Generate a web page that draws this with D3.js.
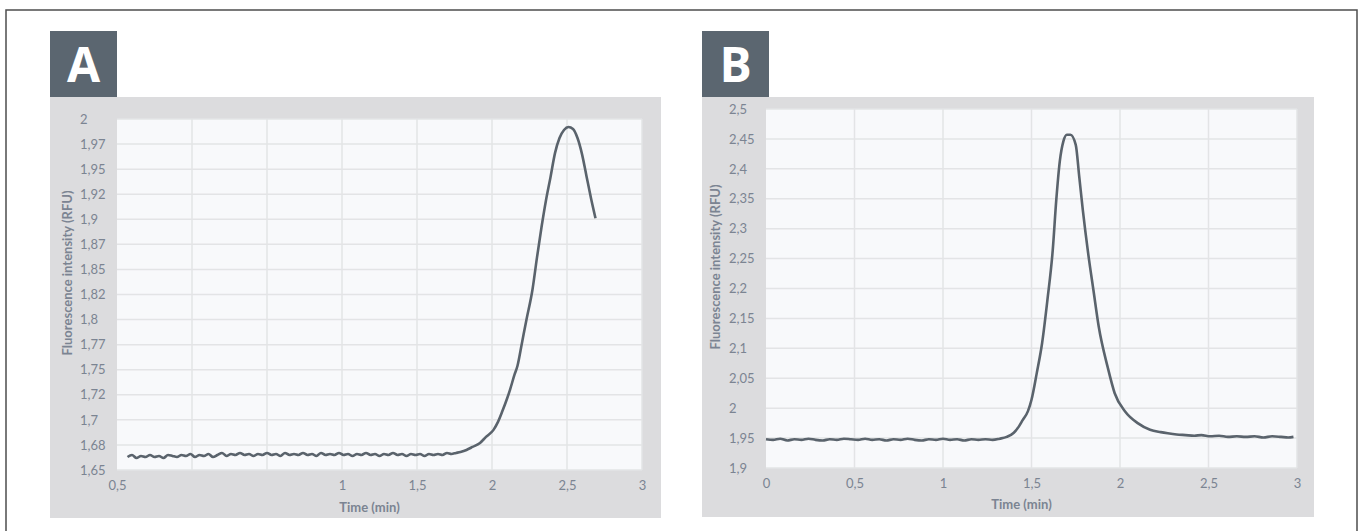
<!DOCTYPE html>
<html>
<head>
<meta charset="utf-8">
<script src="https://cdn.jsdelivr.net/npm/d3@7"></script>
<style>
  body { margin: 0; background: #fff; }
  text { font-family: Lato, "Noto Sans", sans-serif; }
</style>
</head>
<body>
<div id="container"></div>
<script>
const width = 1361;
const height = 531;

// panel A: time (min) / fluorescence (RFU)
const xTicksA = [-0.5, 0, 0.5, 1, 1.5, 2, 2.5, 3];
const xLabelsA = ["0,5", "", "", "1", "1,5", "2", "2,5", "3"];
const yTicksA = [2, 1.975, 1.95, 1.925, 1.9, 1.875, 1.85, 1.825, 1.8, 1.775, 1.75, 1.725, 1.7, 1.675, 1.65];
const yLabelsA = ["2", "1,97", "1,95", "1,92", "1,9", "1,87", "1,85", "1,82", "1,8", "1,77", "1,75", "1,72", "1,7", "1,68", "1,65"];
const seriesA = [
  [-0.43, 1.663], [-0.40, 1.665], [-0.37, 1.662], [-0.34, 1.664], [-0.31, 1.663], [-0.28, 1.665],
  [-0.25, 1.663], [-0.22, 1.664], [-0.19, 1.662], [-0.16, 1.665], [-0.13, 1.664], [-0.10, 1.663],
  [-0.07, 1.665], [-0.04, 1.664], [-0.01, 1.666], [0.02, 1.663], [0.05, 1.665], [0.08, 1.664],
  [0.11, 1.666], [0.14, 1.663], [0.17, 1.665], [0.20, 1.667], [0.23, 1.664], [0.26, 1.666],
  [0.29, 1.665], [0.32, 1.667], [0.35, 1.665], [0.38, 1.666], [0.41, 1.664], [0.44, 1.666],
  [0.47, 1.665], [0.50, 1.667], [0.53, 1.665], [0.56, 1.666], [0.59, 1.664], [0.62, 1.667],
  [0.65, 1.665], [0.68, 1.666], [0.71, 1.665], [0.74, 1.667], [0.77, 1.665], [0.80, 1.666],
  [0.83, 1.664], [0.86, 1.667], [0.89, 1.665], [0.92, 1.666], [0.95, 1.665], [0.98, 1.667],
  [1.01, 1.665], [1.04, 1.666], [1.07, 1.664], [1.10, 1.666], [1.13, 1.665], [1.16, 1.667],
  [1.19, 1.665], [1.22, 1.666], [1.25, 1.664], [1.28, 1.666], [1.31, 1.665], [1.34, 1.667],
  [1.37, 1.665], [1.40, 1.666], [1.43, 1.664], [1.46, 1.666], [1.49, 1.665], [1.52, 1.666],
  [1.55, 1.664], [1.58, 1.666], [1.61, 1.665], [1.64, 1.666], [1.67, 1.665], [1.70, 1.667],
  [1.73, 1.666], [1.76, 1.667], [1.79, 1.668], [1.83, 1.670], [1.87, 1.673], [1.92, 1.677],
  [1.96, 1.683], [2.01, 1.690], [2.04, 1.698], [2.07, 1.709], [2.10, 1.721], [2.12, 1.730],
  [2.15, 1.745], [2.17, 1.754], [2.20, 1.777], [2.23, 1.800], [2.27, 1.830], [2.30, 1.862],
  [2.33, 1.892], [2.36, 1.919], [2.39, 1.942], [2.42, 1.966], [2.45, 1.981], [2.48, 1.989],
  [2.51, 1.992], [2.54, 1.990], [2.57, 1.981], [2.60, 1.965], [2.63, 1.943], [2.66, 1.921],
  [2.69, 1.901]
];

// panel B
const xTicksB = [0, 0.5, 1, 1.5, 2, 2.5, 3];
const xLabelsB = ["0", "0,5", "1", "1,5", "2", "2,5", "3"];
const yTicksB = [2.5, 2.45, 2.4, 2.35, 2.3, 2.25, 2.2, 2.15, 2.1, 2.05, 2, 1.95, 1.9];
const yLabelsB = ["2,5", "2,45", "2,4", "2,35", "2,3", "2,25", "2,2", "2,15", "2,1", "2,05", "2", "1,95", "1,9"];
const seriesB = [
  [0.00, 1.948], [0.04, 1.947], [0.08, 1.949], [0.12, 1.946], [0.16, 1.948], [0.20, 1.947],
  [0.24, 1.949], [0.28, 1.947], [0.32, 1.946], [0.36, 1.948], [0.40, 1.947], [0.44, 1.949],
  [0.48, 1.948], [0.52, 1.947], [0.56, 1.949], [0.60, 1.947], [0.64, 1.948], [0.68, 1.946],
  [0.72, 1.948], [0.76, 1.947], [0.80, 1.949], [0.84, 1.947], [0.88, 1.946], [0.92, 1.948],
  [0.96, 1.947], [1.00, 1.949], [1.04, 1.947], [1.08, 1.948], [1.12, 1.946], [1.16, 1.948],
  [1.20, 1.947], [1.24, 1.948], [1.28, 1.947], [1.32, 1.949], [1.36, 1.952], [1.40, 1.959],
  [1.43, 1.970], [1.45, 1.980], [1.48, 1.995], [1.50, 2.014], [1.53, 2.059], [1.56, 2.109],
  [1.59, 2.181], [1.62, 2.264], [1.64, 2.348], [1.66, 2.413], [1.68, 2.446], [1.70, 2.457],
  [1.72, 2.457], [1.75, 2.440], [1.77, 2.386], [1.79, 2.331], [1.82, 2.259], [1.85, 2.197],
  [1.88, 2.136], [1.93, 2.069], [1.97, 2.025], [2.03, 1.994], [2.10, 1.975], [2.17, 1.964],
  [2.23, 1.960], [2.27, 1.958], [2.32, 1.956], [2.37, 1.955], [2.42, 1.954], [2.46, 1.955],
  [2.51, 1.953], [2.56, 1.954], [2.61, 1.952], [2.66, 1.953], [2.71, 1.952], [2.76, 1.953],
  [2.81, 1.951], [2.86, 1.953], [2.91, 1.952], [2.95, 1.951], [2.98, 1.952]
];

const svg = d3.select("div#container")
    .append("svg")
    .attr("width", width)
    .attr("height", height);

// outer frame
svg.append("rect")
    .attr("x", 6).attr("y", 10)
    .attr("width", 1351).attr("height", 540)
    .attr("fill", "none")
    .attr("stroke", "#4d4d4d")
    .attr("stroke-width", 1.5);

function panel(cfg) {
    const g = svg.append("g");

    // letter badge
    g.append("rect")
        .attr("x", cfg.box[0]).attr("y", 31)
        .attr("width", 67).attr("height", 66)
        .attr("fill", "#5b6670");
    g.append("text")
        .attr("x", cfg.box[0] + 33.5).attr("y", 82)
        .attr("text-anchor", "middle")
        .style("font-family", "'Open Sans', Lato, sans-serif")
        .style("font-weight", 700)
        .style("font-size", "48px")
        .attr("fill", "#fff")
        .text(cfg.letter);

    // chart background
    g.append("rect")
        .attr("x", cfg.box[0]).attr("y", 97)
        .attr("width", cfg.box[1] - cfg.box[0]).attr("height", cfg.box[2] - 97)
        .attr("fill", "#dcdcde");

    const x = d3.scaleLinear().domain(cfg.xDomain).range([cfg.plot[0], cfg.plot[1]]);
    const y = d3.scaleLinear().domain(cfg.yDomain).range([cfg.plot[3], cfg.plot[2]]);

    g.append("rect")
        .attr("x", cfg.plot[0]).attr("y", cfg.plot[2])
        .attr("width", cfg.plot[1] - cfg.plot[0]).attr("height", cfg.plot[3] - cfg.plot[2])
        .attr("fill", "#f8f9fb");

    // grid
    g.selectAll(".hgrid")
        .data(cfg.yTicks)
        .enter()
        .append("line")
        .attr("x1", cfg.plot[0]).attr("x2", cfg.plot[1])
        .attr("y1", function(d) { return y(d); })
        .attr("y2", function(d) { return y(d); })
        .attr("stroke", "#e3e4e6")
        .attr("stroke-width", 1.5);
    g.selectAll(".vgrid")
        .data(cfg.xTicks.slice(1))
        .enter()
        .append("line")
        .attr("y1", cfg.plot[2]).attr("y2", cfg.plot[3])
        .attr("x1", function(d) { return x(d); })
        .attr("x2", function(d) { return x(d); })
        .attr("stroke", "#e3e4e6")
        .attr("stroke-width", 1.5);

    // axes (labels only, Excel style)
    const xaxis = d3.axisBottom(x)
        .tickValues(cfg.xTicks)
        .tickSize(0)
        .tickPadding(10)
        .tickFormat(function(d, i) { return cfg.xLabels[i]; });
    const gx = g.append("g")
        .attr("transform", "translate(0," + (cfg.plot[3] + 1) + ")")
        .call(xaxis);
    gx.select(".domain").remove();
    gx.selectAll("text")
        .style("font-size", "13px")
        .attr("fill", "#7b8492");

    const yaxis = d3.axisLeft(y)
        .tickValues(cfg.yTicks)
        .tickSize(0)
        .tickFormat(function(d, i) { return cfg.yLabels[i]; });
    const gy = g.append("g")
        .attr("transform", "translate(" + cfg.yLabelX + ",0)")
        .call(yaxis);
    gy.select(".domain").remove();
    gy.selectAll("text")
        .attr("x", 0)
        .attr("text-anchor", "start")
        .style("font-size", "13px")
        .attr("fill", "#7b8492");

    g.append("text")
        .attr("x", (cfg.plot[0] + cfg.plot[1]) / 2 - 10)
        .attr("y", cfg.titleY)
        .attr("text-anchor", "middle")
        .style("font-size", "13px")
        .style("font-weight", 700)
        .attr("fill", "#7b8492")
        .text("Time (min)");

    g.append("text")
        .attr("transform", "translate(" + cfg.yTitle[0] + "," + cfg.yTitle[1] + ") rotate(-90)")
        .attr("text-anchor", "middle")
        .attr("dy", "0.35em")
        .style("font-size", "13px")
        .style("font-weight", 700)
        .attr("fill", "#7b8492")
        .text("Fluorescence intensity (RFU)");

    const line = d3.line()
        .curve(d3.curveMonotoneX)
        .x(function(d) { return x(d[0]); })
        .y(function(d) { return y(d[1]); });

    g.append("path")
        .datum(cfg.data)
        .attr("d", line)
        .attr("fill", "none")
        .attr("stroke", "#5a636c")
        .attr("stroke-width", 2.6)
        .attr("stroke-linejoin", "round");
}

panel({
    letter: "A",
    box: [50, 661, 518],
    plot: [117, 642, 119, 470],
    xDomain: [-0.5, 3], yDomain: [1.65, 2],
    xTicks: xTicksA, xLabels: xLabelsA,
    yTicks: yTicksA, yLabels: yLabelsA,
    yLabelX: 80, titleY: 512, yTitle: [67, 273],
    data: seriesA
});

panel({
    letter: "B",
    box: [702, 1314, 517],
    plot: [766, 1297, 109, 468],
    xDomain: [0, 3], yDomain: [1.9, 2.5],
    xTicks: xTicksB, xLabels: xLabelsB,
    yTicks: yTicksB, yLabels: yLabelsB,
    yLabelX: 729, titleY: 509, yTitle: [715, 267],
    data: seriesB
});
</script>
</body>
</html>
